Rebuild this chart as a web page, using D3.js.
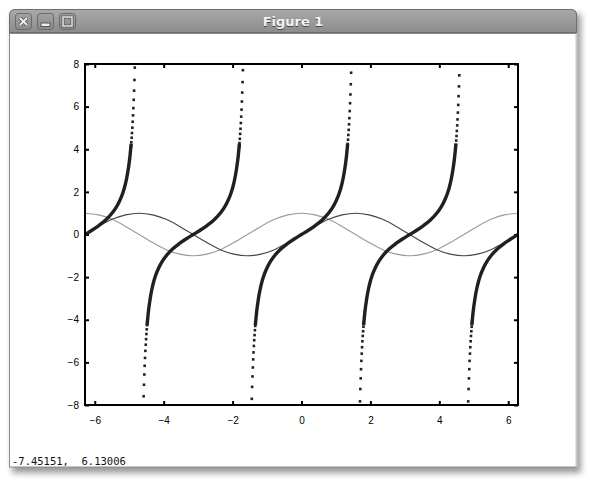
<!DOCTYPE html>
<meta charset="utf-8">
<style>
  body { margin: 0; background: #fff; }
  svg { display: block; }
</style>
<svg width="590" height="483"></svg>
<script src="https://d3js.org/d3.v7.min.js"></script>
<script>

// ---- values ----
var xTicks = [-6, -4, -2, 0, 2, 4, 6];
var yTicks = [-8, -6, -4, -2, 0, 2, 4, 6, 8];

// sin and cos, every pi/8 from -2pi to 2pi
var waveX = [-6.283, -5.890, -5.498, -5.105, -4.712, -4.320, -3.927, -3.534, -3.142, -2.749, -2.356, -1.963,
  -1.571, -1.178, -0.785, -0.393, 0, 0.393, 0.785, 1.178, 1.571, 1.963, 2.356, 2.749, 3.142, 3.534, 3.927,
  4.320, 4.712, 5.105, 5.498, 5.890, 6.283];
var sinY = [0, 0.38, 0.71, 0.92, 1, 0.92, 0.71, 0.38, 0, -0.38, -0.71, -0.92, -1, -0.92, -0.71, -0.38,
  0, 0.38, 0.71, 0.92, 1, 0.92, 0.71, 0.38, 0, -0.38, -0.71, -0.92, -1, -0.92, -0.71, -0.38, 0];
var cosY = [1, 0.92, 0.71, 0.38, 0, -0.38, -0.71, -0.92, -1, -0.92, -0.71, -0.38, 0, 0.38, 0.71, 0.92,
  1, 0.92, 0.71, 0.38, 0, -0.38, -0.71, -0.92, -1, -0.92, -0.71, -0.38, 0, 0.38, 0.71, 0.92, 1];

// tan: the dense middle of every branch (same shape each period), around these zeros
var tanCenters = [-6.283, -3.142, 0, 3.142, 6.283];
var tanMidU = [-1.34, -1.3, -1.25, -1.2, -1.15, -1.1, -1.0, -0.9, -0.8, -0.6, -0.4, -0.2, 0,
  0.2, 0.4, 0.6, 0.8, 0.9, 1.0, 1.1, 1.15, 1.2, 1.25, 1.3, 1.34];
var tanMidY = [-4.26, -3.60, -3.01, -2.57, -2.23, -1.96, -1.56, -1.26, -1.03, -0.68, -0.42, -0.20, 0,
  0.20, 0.42, 0.68, 1.03, 1.26, 1.56, 1.96, 2.23, 2.57, 3.01, 3.60, 4.26];

// tan: separate sample dots near the asymptotes
var tailTopX1 = [-4.839, -4.849, -4.859, -4.869, -4.879, -4.889, -4.899, -4.909, -4.919, -4.929, -4.939, -4.949];
var tailTopY1 = [7.83, 7.25, 6.75, 6.32, 5.93, 5.59, 5.29, 5.01, 4.76, 4.54, 4.33, 4.14];
var tailBotX2 = [-4.581, -4.571, -4.561, -4.551, -4.541, -4.531, -4.521, -4.511, -4.501, -4.491, -4.481, -4.471];
var tailBotY2 = [-7.59, -7.05, -6.57, -6.16, -5.79, -5.46, -5.17, -4.91, -4.67, -4.45, -4.25, -4.07];
var tailTopX2 = [-1.700, -1.710, -1.720, -1.730, -1.740, -1.750, -1.760, -1.770, -1.780, -1.790, -1.800, -1.810];
var tailTopY2 = [7.71, 7.15, 6.66, 6.24, 5.86, 5.53, 5.23, 4.96, 4.72, 4.49, 4.29, 4.10];
var tailBotX3 = [-1.442, -1.432, -1.422, -1.412, -1.402, -1.392, -1.382, -1.372, -1.362, -1.352, -1.342, -1.332];
var tailBotY3 = [-7.71, -7.15, -6.66, -6.24, -5.86, -5.53, -5.23, -4.96, -4.72, -4.49, -4.29, -4.10];
var tailTopX3 = [1.440, 1.430, 1.420, 1.410, 1.400, 1.390, 1.380, 1.370, 1.360, 1.350, 1.340, 1.330];
var tailTopY3 = [7.59, 7.05, 6.57, 6.16, 5.79, 5.46, 5.17, 4.91, 4.67, 4.45, 4.25, 4.07];
var tailBotX4 = [1.698, 1.708, 1.718, 1.728, 1.738, 1.748, 1.758, 1.768, 1.778, 1.788, 1.798, 1.808];
var tailBotY4 = [-7.83, -7.25, -6.75, -6.32, -5.93, -5.59, -5.29, -5.01, -4.76, -4.54, -4.33, -4.14];
var tailTopX4 = [4.579, 4.569, 4.559, 4.549, 4.539, 4.529, 4.519, 4.509, 4.499, 4.489, 4.479, 4.469];
var tailTopY4 = [7.47, 6.95, 6.49, 6.08, 5.72, 5.40, 5.12, 4.86, 4.62, 4.41, 4.21, 4.03];
var tailBotX5 = [4.839, 4.849, 4.859, 4.869, 4.879, 4.889, 4.899, 4.909, 4.919, 4.929, 4.939, 4.949];
var tailBotY5 = [-7.83, -7.25, -6.75, -6.32, -5.93, -5.59, -5.29, -5.01, -4.76, -4.54, -4.33, -4.14];

var statusText = "-7.45151,  6.13006";

// ---- layout ----
var svg = d3.select("svg");
var plotL = 85, plotR = 518, plotT = 64, plotB = 405;

var x = d3.scaleLinear().domain([-2 * Math.PI, 2 * Math.PI]).range([plotL, plotR]);
var y = d3.scaleLinear().domain([-8, 8]).range([plotB, plotT]);

// window chrome
var defs = svg.append("defs");
defs.append("filter").attr("id", "shadow").attr("x", "-5%").attr("y", "-5%").attr("width", "110%").attr("height", "110%")
  .append("feGaussianBlur").attr("stdDeviation", 3);
var tg = defs.append("linearGradient").attr("id", "titlebar").attr("x1", 0).attr("y1", 0).attr("x2", 0).attr("y2", 1);
tg.append("stop").attr("offset", 0).attr("stop-color", "#a9a9a9");
tg.append("stop").attr("offset", 1).attr("stop-color", "#8b8b8b");
var bg = defs.append("linearGradient").attr("id", "btn").attr("x1", 0).attr("y1", 0).attr("x2", 0).attr("y2", 1);
bg.append("stop").attr("offset", 0).attr("stop-color", "#a2a2a2");
bg.append("stop").attr("offset", 1).attr("stop-color", "#8a8a8a");
defs.append("clipPath").attr("id", "plotclip").append("rect")
  .attr("x", plotL).attr("y", plotT).attr("width", plotR - plotL).attr("height", plotB - plotT);

svg.append("rect").attr("x", 12).attr("y", 14).attr("width", 569).attr("height", 459)
  .attr("fill", "#000").attr("opacity", 0.4).attr("filter", "url(#shadow)");

svg.append("rect").attr("x", 9.5).attr("y", 32).attr("width", 567).attr("height", 435)
  .attr("fill", "#fff").attr("stroke", "#8c8c8c");
svg.append("line").attr("x1", 576.5).attr("x2", 576.5).attr("y1", 33).attr("y2", 467)
  .attr("stroke", "#c8c8c8").attr("stroke-width", 2);

svg.append("path")
  .attr("d", "M9.5,33 L9.5,15 Q9.5,9.5 15,9.5 L571,9.5 Q576.5,9.5 576.5,15 L576.5,33 Z")
  .attr("fill", "url(#titlebar)").attr("stroke", "#6f6f6f");
svg.append("line").attr("x1", 10).attr("x2", 576).attr("y1", 33).attr("y2", 33).attr("stroke", "#5e5e5e");

var buttons = [15, 37, 59];
buttons.forEach(function(bx, i) {
  svg.append("rect").attr("x", bx + 0.5).attr("y", 13.5).attr("width", 16).attr("height", 16).attr("rx", 3)
    .attr("fill", "url(#btn)").attr("stroke", "#6a6a6a");
  var g = svg.append("g").attr("transform", "translate(" + (bx + 8.5) + ",21.5)");
  if (i === 0) {
    g.append("path").attr("d", "M-3.5,-3.5L3.5,3.5M3.5,-3.5L-3.5,3.5").attr("stroke", "#555").attr("stroke-width", 3.6);
    g.append("path").attr("d", "M-3.5,-3.5L3.5,3.5M3.5,-3.5L-3.5,3.5").attr("stroke", "#eee").attr("stroke-width", 2);
  } else if (i === 1) {
    g.append("rect").attr("x", -4.5).attr("y", 1.5).attr("width", 9).attr("height", 3.5).attr("fill", "#eee").attr("stroke", "#555");
  } else {
    g.append("rect").attr("x", -4.5).attr("y", -4.5).attr("width", 9).attr("height", 9).attr("fill", "none").attr("stroke", "#555").attr("stroke-width", 3);
    g.append("rect").attr("x", -4.5).attr("y", -4.5).attr("width", 9).attr("height", 9).attr("fill", "none").attr("stroke", "#eee").attr("stroke-width", 1.4);
  }
});

svg.append("text").attr("x", 293).attr("y", 27).attr("text-anchor", "middle")
  .attr("font-family", "DejaVu Sans, sans-serif").attr("font-size", 13).attr("font-weight", "bold")
  .attr("fill", "#444").text("Figure 1");
svg.append("text").attr("x", 293).attr("y", 26).attr("text-anchor", "middle")
  .attr("font-family", "DejaVu Sans, sans-serif").attr("font-size", 13).attr("font-weight", "bold")
  .attr("fill", "#f4f4f4").text("Figure 1");

// ---- axes ----
function styleAxis(g) {
  g.select(".domain").remove();
  g.selectAll(".tick line").attr("stroke", "#000").attr("stroke-width", 2);
  g.selectAll(".tick text").attr("fill", "#000");
}

svg.append("g").attr("transform", "translate(0," + plotB + ")")
  .attr("font-family", "Liberation Sans, Arial, sans-serif").attr("font-size", 9.5)
  .call(d3.axisBottom(x).tickValues(xTicks).tickSize(-4).tickPadding(12))
  .call(styleAxis);
svg.append("g").attr("transform", "translate(0," + plotT + ")")
  .call(d3.axisTop(x).tickValues(xTicks).tickSize(-4).tickFormat(""))
  .call(styleAxis);
svg.append("g").attr("transform", "translate(" + plotL + ",0)")
  .attr("font-family", "Liberation Sans, Arial, sans-serif").attr("font-size", 9.5)
  .call(d3.axisLeft(y).tickValues(yTicks).tickSize(-4).tickPadding(6))
  .call(styleAxis);
svg.append("g").attr("transform", "translate(" + plotR + ",0)")
  .call(d3.axisRight(y).tickValues(yTicks).tickSize(-4).tickFormat(""))
  .call(styleAxis);

// ---- curves ----
var plot = svg.append("g").attr("clip-path", "url(#plotclip)");

var wave = d3.line().x(function(d) { return x(d[0]); }).y(function(d) { return y(d[1]); }).curve(d3.curveNatural);
plot.append("path").datum(d3.zip(waveX, cosY)).attr("d", wave)
  .attr("fill", "none").attr("stroke", "#9a9a9a").attr("stroke-width", 1.1);
plot.append("path").datum(d3.zip(waveX, sinY)).attr("d", wave)
  .attr("fill", "none").attr("stroke", "#454545").attr("stroke-width", 1.1);

var tanLine = d3.line().x(function(d) { return x(d[0]); }).y(function(d) { return y(d[1]); }).curve(d3.curveMonotoneX);
tanCenters.forEach(function(c) {
  var pts = tanMidU.map(function(u, i) { return [c + u, tanMidY[i]]; });
  plot.append("path").datum(pts).attr("d", tanLine)
    .attr("fill", "none").attr("stroke", "#202020").attr("stroke-width", 3.4);
});

var tails = [
  [tailTopX1, tailTopY1], [tailBotX2, tailBotY2], [tailTopX2, tailTopY2], [tailBotX3, tailBotY3],
  [tailTopX3, tailTopY3], [tailBotX4, tailBotY4], [tailTopX4, tailTopY4], [tailBotX5, tailBotY5]
];
var dots = [];
tails.forEach(function(t) { dots = dots.concat(d3.zip(t[0], t[1])); });
var s = 2.6;
plot.selectAll("rect.dot").data(dots).join("rect").attr("class", "dot")
  .attr("x", function(d) { return x(d[0]) - s / 2; })
  .attr("y", function(d) { return y(d[1]) - s / 2; })
  .attr("width", s).attr("height", s).attr("fill", "#202020");

// frame
svg.append("rect").attr("x", plotL).attr("y", plotT).attr("width", plotR - plotL).attr("height", plotB - plotT)
  .attr("fill", "none").attr("stroke", "#000").attr("stroke-width", 2);

// status line
svg.append("text").attr("x", 12).attr("y", 465).attr("xml:space", "preserve")
  .style("white-space", "pre")
  .attr("font-family", "DejaVu Sans Mono, monospace").attr("font-size", 10.5)
  .attr("fill", "#111").text(statusText);

</script>
